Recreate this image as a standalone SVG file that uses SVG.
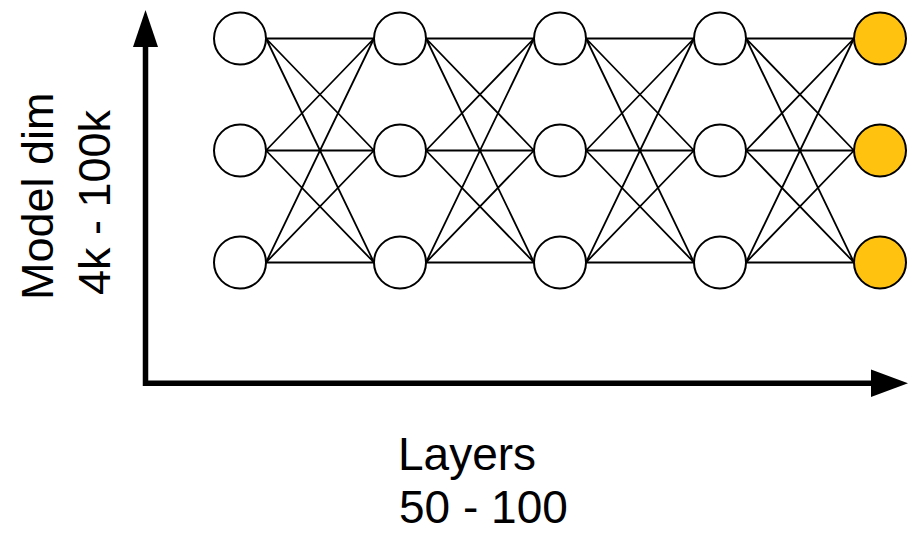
<svg xmlns="http://www.w3.org/2000/svg" width="912" height="533" viewBox="0 0 912 533">
  <style>
    .node { fill: #ffffff; stroke: #000000; stroke-width: 2; }
    .out { fill: #ffc20e; }
    .edge { stroke: #000000; stroke-width: 1.8; fill: none; }
    .axis { stroke: #000000; stroke-width: 5.5; fill: none; stroke-linejoin: miter; }
    .head { fill: #000000; }
    .label { font-family: "Liberation Sans", Arial, sans-serif; fill: #000000; }
  </style>
  <rect width="912" height="533" fill="#ffffff"/>

  <!-- axes -->
  <g id="axes">
    <polyline class="axis" points="145.5,45 145.5,383.3 872,383.3"/>
    <polygon class="head" points="145.5,10 158,47 133,47"/>
    <polygon class="head" points="908,383.3 871,369.5 871,397"/>
  </g>

  <!-- fully connected edges between consecutive layers -->
  <g id="connectors">
    <!-- layer 1 -> layer 2 -->
    <path class="edge" d="M266,38.5L374,38.5M266,38.5L374,150.5M266,38.5L374,262.5
      M266,150.5L374,38.5M266,150.5L374,150.5M266,150.5L374,262.5
      M266,262.5L374,38.5M266,262.5L374,150.5M266,262.5L374,262.5"/>
    <!-- layer 2 -> layer 3 -->
    <path class="edge" d="M426,38.5L534,38.5M426,38.5L534,150.5M426,38.5L534,262.5
      M426,150.5L534,38.5M426,150.5L534,150.5M426,150.5L534,262.5
      M426,262.5L534,38.5M426,262.5L534,150.5M426,262.5L534,262.5"/>
    <!-- layer 3 -> layer 4 -->
    <path class="edge" d="M586,38.5L694,38.5M586,38.5L694,150.5M586,38.5L694,262.5
      M586,150.5L694,38.5M586,150.5L694,150.5M586,150.5L694,262.5
      M586,262.5L694,38.5M586,262.5L694,150.5M586,262.5L694,262.5"/>
    <!-- layer 4 -> output -->
    <path class="edge" d="M746,38.5L854,38.5M746,38.5L854,150.5M746,38.5L854,262.5
      M746,150.5L854,38.5M746,150.5L854,150.5M746,150.5L854,262.5
      M746,262.5L854,38.5M746,262.5L854,150.5M746,262.5L854,262.5"/>
  </g>

  <!-- layer 1 -->
  <g id="n1-1"><circle class="node" cx="240" cy="38.5" r="26"/></g>
  <g id="n1-2"><circle class="node" cx="240" cy="150.5" r="26"/></g>
  <g id="n1-3"><circle class="node" cx="240" cy="262.5" r="26"/></g>
  <!-- layer 2 -->
  <g id="n2-1"><circle class="node" cx="400" cy="38.5" r="26"/></g>
  <g id="n2-2"><circle class="node" cx="400" cy="150.5" r="26"/></g>
  <g id="n2-3"><circle class="node" cx="400" cy="262.5" r="26"/></g>
  <!-- layer 3 -->
  <g id="n3-1"><circle class="node" cx="560" cy="38.5" r="26"/></g>
  <g id="n3-2"><circle class="node" cx="560" cy="150.5" r="26"/></g>
  <g id="n3-3"><circle class="node" cx="560" cy="262.5" r="26"/></g>
  <!-- layer 4 -->
  <g id="n4-1"><circle class="node" cx="720" cy="38.5" r="26"/></g>
  <g id="n4-2"><circle class="node" cx="720" cy="150.5" r="26"/></g>
  <g id="n4-3"><circle class="node" cx="720" cy="262.5" r="26"/></g>
  <!-- output layer -->
  <g id="out-1"><circle class="node out" cx="880" cy="38.5" r="26"/></g>
  <g id="out-2"><circle class="node out" cx="880" cy="150.5" r="26"/></g>
  <g id="out-3"><circle class="node out" cx="880" cy="262.5" r="26"/></g>

  <!-- axis labels -->
  <g id="y-label" class="label" font-size="45">
    <text transform="translate(53,300) rotate(-90)">Model dim</text>
    <text transform="translate(110,295) rotate(-90)">4k - 100k</text>
  </g>
  <g id="x-label" class="label" font-size="46">
    <text x="398" y="470">Layers</text>
    <text x="399" y="523">50 - 100</text>
  </g>
</svg>
